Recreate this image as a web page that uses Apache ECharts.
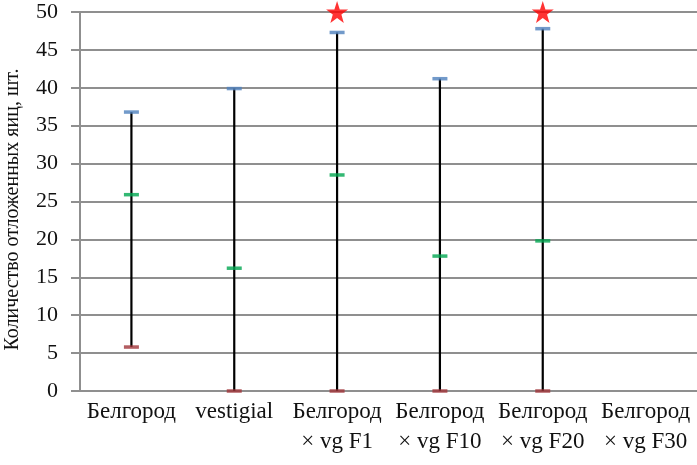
<!DOCTYPE html>
<html lang="ru">
<head>
  <meta charset="UTF-8">
  <title>Chart</title>
  <script src="https://cdn.jsdelivr.net/npm/echarts@6/dist/echarts.min.js"></script>
  <style>html,body{margin:0;padding:0;background:#fff;}</style>
</head>
<body>
<div id="main" style="width: 697px;height:465px;"></div>
<script>
  // категории и значения
  var categories = ['Белгород', 'vestigial', 'Белгород\n× vg F1', 'Белгород\n× vg F10', 'Белгород\n× vg F20', 'Белгород\n× vg F30'];
  var maxVals = [36.8, 39.9, 47.3, 41.2, 47.8, null];
  var meanVals = [25.9, 16.2, 28.5, 17.8, 19.8, null];
  var minVals = [5.8, 0, 0, 0, 0, null];
  var starVals = [null, null, 50, null, 50, null];
  var yTicks = [0, 5, 10, 15, 20, 25, 30, 35, 40, 45, 50];

  var font = '"Liberation Serif", "Times New Roman", serif';
  var starPath = 'path://M50,0 L61.8,35.1 L98.1,35.1 L68.8,56.7 L79.4,91.9 L50,70.6 L20.6,91.9 L31.2,56.7 L1.9,35.1 L38.2,35.1 Z';

  var whiskers = [];
  for (var i = 0; i < categories.length; i++) {
    if (maxVals[i] != null) whiskers.push([i, minVals[i], maxVals[i]]);
  }

  var myChart = echarts.init(document.querySelector('#main'), null, {renderer: 'canvas'});

  var tickSeries = function (vals, color) {
    return {
      type: 'scatter',
      data: vals,
      symbol: 'rect',
      symbolSize: [15, 3.5],
      itemStyle: {color: color},
      z: 5,
      silent: true
    };
  };

  var option = {
    animation: false,
    grid: {left: 80, right: 0, top: 12, bottom: 74, outerBoundsMode: 'none', containLabel: false},
    xAxis: {
      type: 'category',
      data: categories,
      axisLine: {lineStyle: {color: '#8f8f8f', width: 2}},
      axisTick: {length: 6, lineStyle: {color: '#8f8f8f', width: 1.5}},
      axisLabel: {
        fontFamily: font, fontSize: 23, color: '#111',
        lineHeight: 30, margin: 6, interval: 0
      }
    },
    yAxis: {
      type: 'value',
      min: yTicks[0],
      max: yTicks[yTicks.length - 1],
      interval: 5,
      name: 'Количество отложенных яиц, шт.',
      nameLocation: 'middle',
      nameRotate: 90,
      nameGap: 57,
      nameTextStyle: {fontFamily: font, fontSize: 20, color: '#111', padding: [0, 16, 0, 0]},
      axisLine: {show: true, lineStyle: {color: '#8f8f8f', width: 2}},
      axisTick: {show: true, length: 9, lineStyle: {color: '#8f8f8f', width: 2}},
      axisLabel: {fontFamily: font, fontSize: 22, color: '#111', margin: 22},
      splitLine: {lineStyle: {color: '#8f8f8f', width: 2}}
    },
    series: [
      {
        type: 'custom',
        data: whiskers,
        renderItem: function (params, api) {
          var p1 = api.coord([api.value(0), api.value(1)]);
          var p2 = api.coord([api.value(0), api.value(2)]);
          return {
            type: 'line',
            shape: {x1: p1[0], y1: p1[1], x2: p2[0], y2: p2[1]},
            style: {stroke: '#000', lineWidth: 2.2}
          };
        },
        z: 3
      },
      tickSeries(maxVals, '#4F81BD'),
      tickSeries(meanVals, '#00A650'),
      tickSeries(minVals, '#A0353A'),
      {
        type: 'scatter',
        data: starVals,
        symbol: starPath,
        symbolSize: 22,
        clip: false,
        itemStyle: {color: '#FF0000'},
        z: 6
      }
    ]
  };

  myChart.setOption(option);
</script>
</body>
</html>
